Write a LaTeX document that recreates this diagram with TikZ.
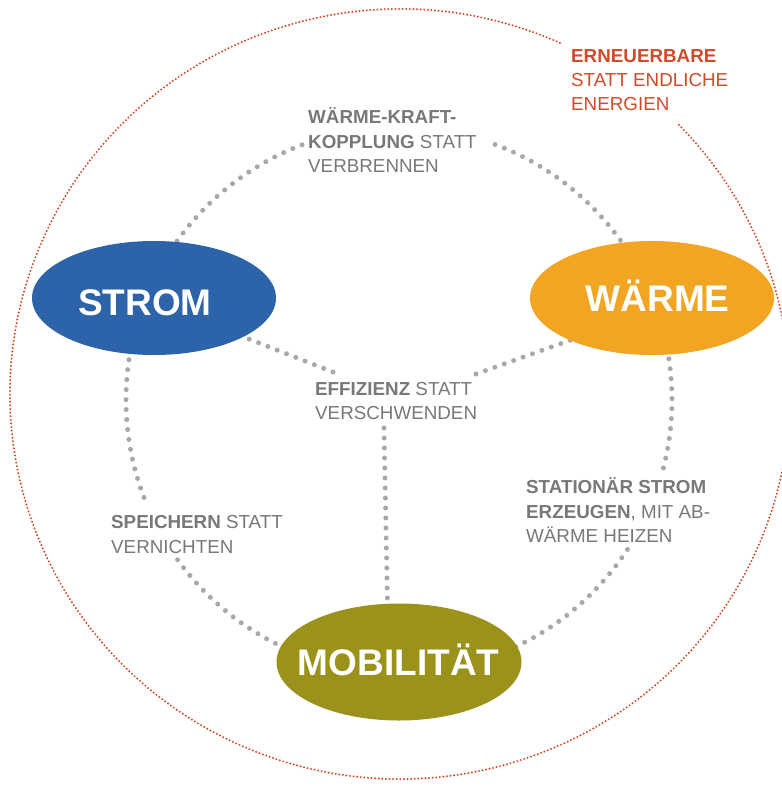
\documentclass[tikz,border=0pt]{standalone}
\usepackage{fontspec}
\setmainfont{Liberation Sans}
\usetikzlibrary{shapes.geometric}
\definecolor{stromblue}{RGB}{45,99,168}
\definecolor{waermeorange}{RGB}{242,165,35}
\definecolor{mobolive}{RGB}{154,146,27}
\definecolor{lblgray}{RGB}{120,120,120}
\definecolor{dotgray}{RGB}{168,168,170}
\definecolor{ered}{RGB}{210,74,42}
\newcommand\lblfont{\fontsize{18.8}{24}\selectfont}
\newcommand\bubfont{\fontsize{37}{42}\selectfont\bfseries}
\begin{document}
\begin{tikzpicture}[x=1pt,y=1pt,
  lbl/.style={anchor=base west,inner sep=0pt,font=\lblfont,text=lblgray},
  redlbl/.style={lbl,text=ered},
  bubble/.style={ellipse,inner sep=0pt,draw=none,minimum width=244pt,minimum height=114pt},
  bubtext/.style={anchor=base,inner sep=0pt,font=\bubfont,text=white},
  graydots/.style={draw=dotgray,line width=5pt,line cap=round,dash pattern=on 0pt off 10pt},
  reddots/.style={draw=ered,line width=2.2pt,line cap=round,dash pattern=on 0pt off 3.6pt}]
\useasboundingbox (0,0) rectangle (781,-786);
\fill[white] (0,0) rectangle (781,-786);
% outer red dotted circle
\coordinate (rc) at (400,-394);
\draw[reddots] (rc) ++({390*cos(65.8)},{385*sin(65.8)}) arc[start angle=65.8,end angle=404.5,x radius=390,y radius=385];
% gray dotted circle segments
\coordinate (hub) at (399,-400);
\draw[graydots] (hub) ++(110.8:273) arc[start angle=110.8,end angle=150,radius=273];
\draw[graydots] (hub) ++(69.4:273) arc[start angle=69.4,end angle=30,radius=273];
\draw[graydots] (hub) ++(200.9:273) arc[start angle=200.9,end angle=165,radius=273];
\draw[graydots] (hub) ++(215.8:273) arc[start angle=215.8,end angle=250,radius=273];
\draw[graydots] (hub) ++(-14.4:273) arc[start angle=-14.4,end angle=15,radius=273];
\draw[graydots] (hub) ++(-33.2:273) arc[start angle=-33.2,end angle=-70,radius=273];
% inner connectors
\coordinate (effl) at (333,-372);
\coordinate (effr) at (476,-374);
\coordinate (effb) at (384,-428);
\coordinate (stromin) at (221,-328);
\coordinate (waermein) at (596,-331);
\coordinate (mobin) at (388,-630);
\draw[graydots] (effl) -- (stromin);
\draw[graydots] (effr) -- (waermein);
\draw[graydots] (effb) -- (mobin);
% bubbles
\node[bubble,fill=stromblue] (strom) at (154,-298) {};
\node[bubble,fill=waermeorange] (waerme) at (652,-298) {};
\node[bubble,fill=mobolive,minimum height=117pt,minimum width=245pt] (mob) at (399,-662) {};
\node[bubtext] (stromt) at (145,-315) {STROM};
\node[bubtext] (waermet) at (657.7,-311.4) {WÄRME};
\node[bubtext] (mobt) at (398.6,-675) {MOBILITÄT};
% labels
\node[redlbl] (e1) at (571,-63) {\textbf{ERNEUERBARE}};
\node[redlbl] (e2) at (571,-87) {STATT ENDLICHE};
\node[redlbl] (e3) at (571,-111) {ENERGIEN};
\node[lbl] (k1) at (308,-124) {\textbf{WÄRME-KRAFT-}};
\node[lbl] (k2) at (308,-148.5) {\textbf{KOPPLUNG} STATT};
\node[lbl] (k3) at (308,-173) {VERBRENNEN};
\node[lbl] (f1) at (315,-395) {\textbf{EFFIZIENZ} STATT};
\node[lbl] (f2) at (315,-419.5) {VERSCHWENDEN};
\node[lbl] (s1) at (111,-528) {\textbf{SPEICHERN} STATT};
\node[lbl] (s2) at (111,-553) {VERNICHTEN};
\node[lbl] (t1) at (526,-493) {\textbf{STATIONÄR STROM}};
\node[lbl] (t2) at (526,-518) {\textbf{ERZEUGEN}, MIT AB-};
\node[lbl] (t3) at (526,-542) {WÄRME HEIZEN};
\end{tikzpicture}
\end{document}
